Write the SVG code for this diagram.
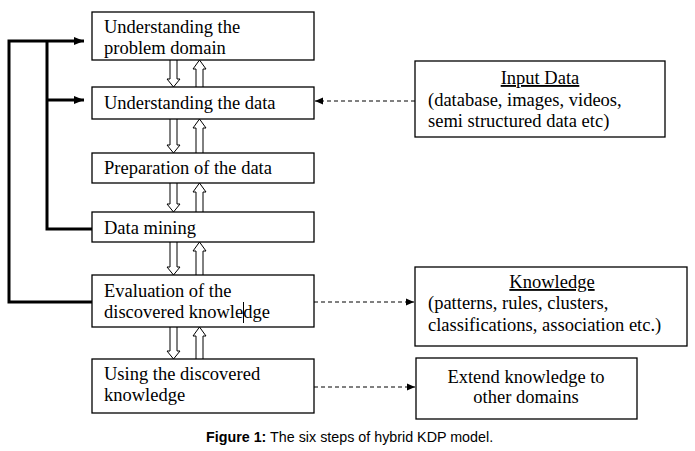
<svg xmlns="http://www.w3.org/2000/svg" width="695" height="451" viewBox="0 0 695 451">
<style>
.box{fill:#fff;stroke:#000;stroke-width:1.3}
.t{font-family:"Liberation Serif","Times New Roman",serif;font-size:18.5px;fill:#000}
.fb{fill:none;stroke:#000;stroke-width:3}
.ha{fill:#fff;stroke:#000;stroke-width:1}
.dash{fill:none;stroke:#000;stroke-width:1;stroke-dasharray:4 3}
.cap{font-family:"Liberation Sans",Arial,sans-serif;font-size:14.3px;fill:#000}
</style>
<defs>
<marker id="ah" viewBox="0 0 10 10" refX="10" refY="5" markerWidth="10" markerHeight="10" markerUnits="userSpaceOnUse" orient="auto">
<path d="M0,1 L10,5 L0,9 Z" fill="#000"/>
</marker>
<marker id="dh" viewBox="0 0 8 8" refX="8" refY="4" markerWidth="8" markerHeight="8" markerUnits="userSpaceOnUse" orient="auto">
<path d="M0,0.5 L8,4 L0,7.5 Z" fill="#000"/>
</marker>
</defs>
<rect width="695" height="451" fill="#fff"/>

<g id="connectors">
<path class="fb" d="M92,302 L9,302 L9,41 L84,41" marker-end="url(#ah)"/>
<path class="fb" d="M92,229 L47,229 L47,41"/>
<path class="fb" d="M47,100 L84,100" marker-end="url(#ah)"/>
<path class="ha" d="M170,60 L170,79 L167,79 L173.5,87 L180,79 L177,79 L177,60"/>
<path class="ha" d="M196,87 L196,69 L193,69 L199.5,60 L206,69 L203,69 L203,87"/>
<path class="ha" d="M170,119 L170,145 L167,145 L173.5,153 L180,145 L177,145 L177,119"/>
<path class="ha" d="M196,153 L196,128 L193,128 L199.5,119 L206,128 L203,128 L203,153"/>
<path class="ha" d="M170,183 L170,204 L167,204 L173.5,212 L180,204 L177,204 L177,183"/>
<path class="ha" d="M196,212 L196,192 L193,192 L199.5,183 L206,192 L203,192 L203,212"/>
<path class="ha" d="M170,242 L170,267 L167,267 L173.5,275 L180,267 L177,267 L177,242"/>
<path class="ha" d="M196,275 L196,251 L193,251 L199.5,242 L206,251 L203,251 L203,275"/>
<path class="ha" d="M170,327 L170,351 L167,351 L173.5,359 L180,351 L177,351 L177,327"/>
<path class="ha" d="M196,359 L196,336 L193,336 L199.5,327 L206,336 L203,336 L203,359"/>
<path class="dash" d="M415,101 L315,101" marker-end="url(#dh)"/>
<path class="dash" d="M314,302 L414,302" marker-end="url(#dh)"/>
<path class="dash" d="M314,387 L415,387" marker-end="url(#dh)"/>
</g>

<g id="n1"><rect class="box" x="92" y="12" width="222" height="48"/>
<text class="t" x="104" y="33">Understanding the</text><text class="t" x="104" y="54">problem domain</text></g>
<g id="n2"><rect class="box" x="92" y="87" width="222" height="32"/>
<text class="t" x="104" y="109">Understanding the data</text></g>
<g id="n3"><rect class="box" x="92" y="153" width="222" height="30"/>
<text class="t" x="104" y="174">Preparation of the data</text></g>
<g id="n4"><rect class="box" x="92" y="212" width="222" height="30"/>
<text class="t" x="104" y="234">Data mining</text></g>
<g id="n5"><rect class="box" x="92" y="275" width="222" height="52"/>
<text class="t" x="104" y="297">Evaluation of the</text><text class="t" x="104" y="318">discovered knowledge</text>
<line x1="243.5" y1="302" x2="243.5" y2="323" stroke="#000" stroke-width="1"/></g>
<g id="n6"><rect class="box" x="92" y="359" width="222" height="54"/>
<text class="t" x="104" y="380">Using the discovered</text><text class="t" x="104" y="401">knowledge</text></g>

<g id="input"><rect class="box" x="415" y="61" width="250" height="76"/>
<text class="t" x="540" y="84" text-anchor="middle" text-decoration="underline">Input Data</text>
<text class="t" x="428" y="106">(database, images, videos,</text>
<text class="t" x="428" y="127">semi structured data etc)</text></g>
<g id="knowledge"><rect class="box" x="415" y="267" width="272" height="79"/>
<text class="t" x="552" y="288" text-anchor="middle" text-decoration="underline">Knowledge</text>
<text class="t" x="428" y="309">(patterns, rules, clusters,</text>
<text class="t" x="428" y="331">classifications, association etc.)</text></g>
<g id="extend"><rect class="box" x="416" y="358" width="221" height="61"/>
<text class="t" x="526" y="383" text-anchor="middle">Extend knowledge to</text>
<text class="t" x="526" y="403" text-anchor="middle">other domains</text></g>

<text class="cap" x="206" y="442"><tspan font-weight="bold">Figure 1:</tspan> The six steps of hybrid KDP model.</text>
</svg>
